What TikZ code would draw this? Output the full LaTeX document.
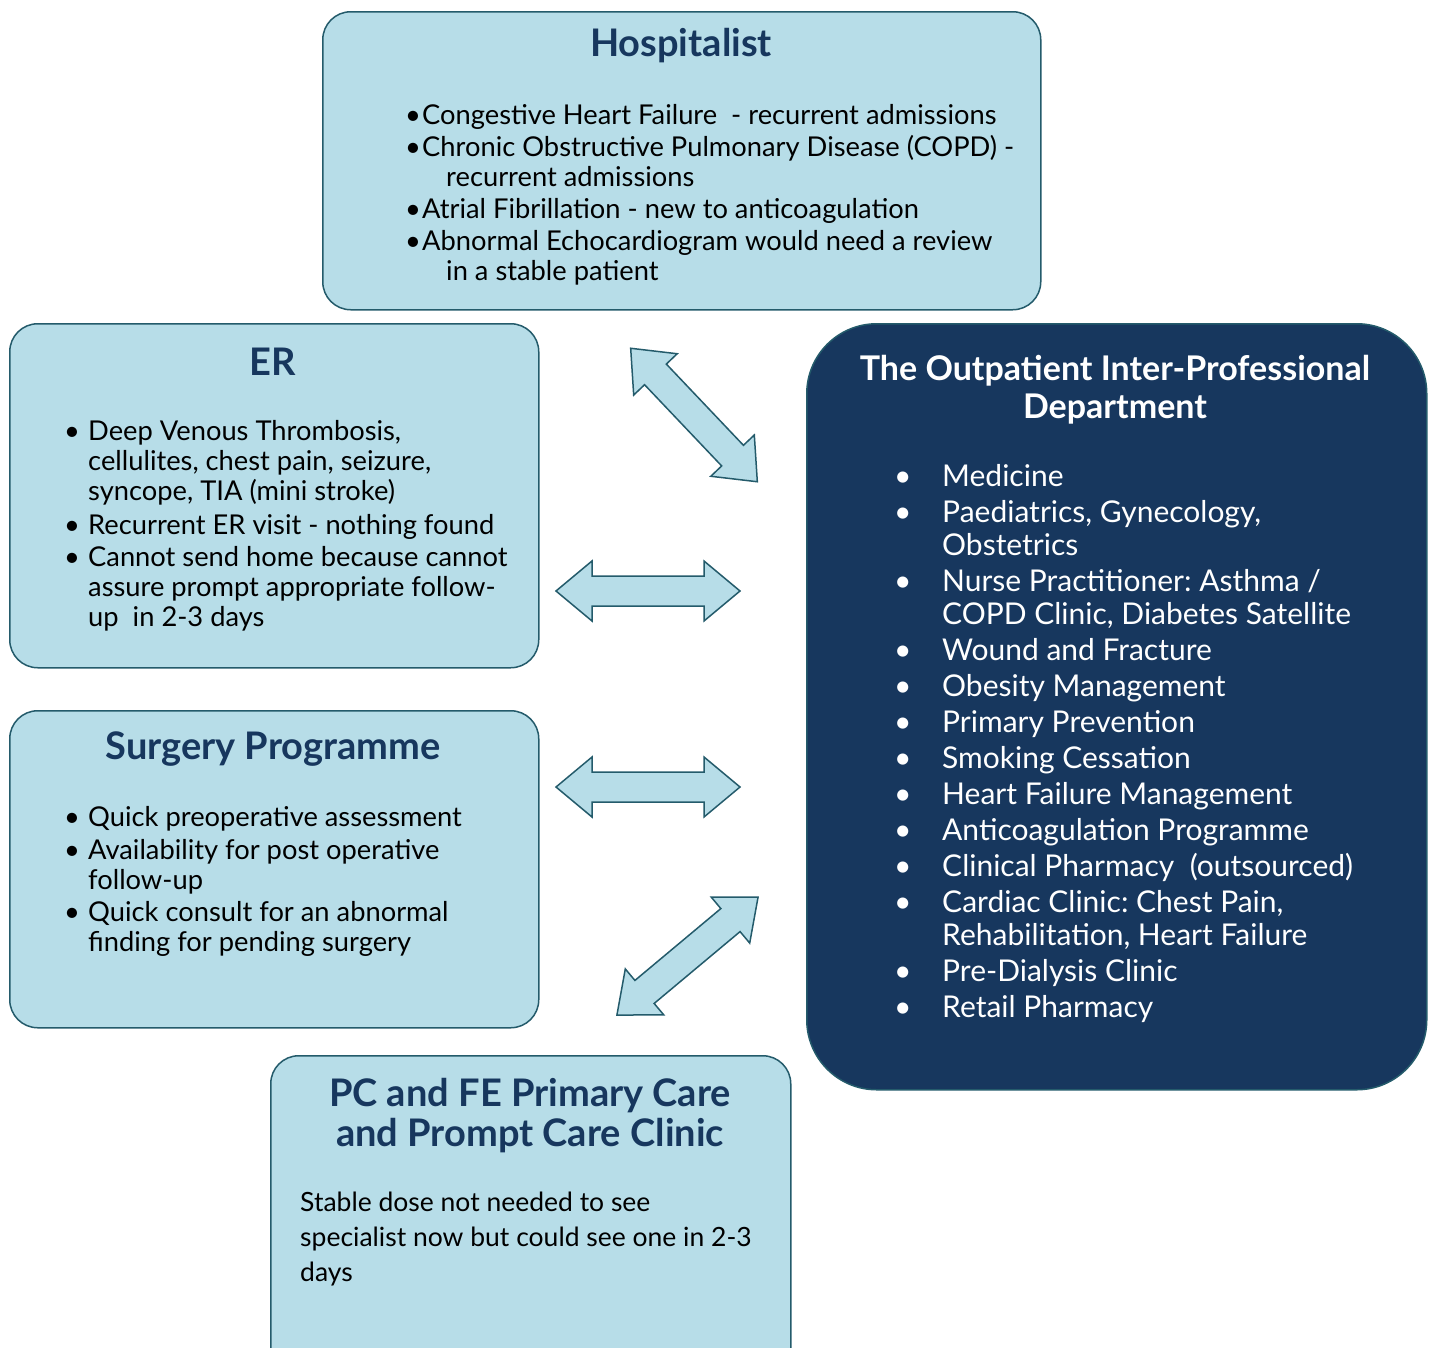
\documentclass[tikz,border=0pt]{standalone}
\usepackage{fontspec}
\setmainfont{Lato}
\usepackage{tikz}
\usetikzlibrary{positioning}

\definecolor{boxfill}{HTML}{B7DDE8}
\definecolor{boxline}{HTML}{245B6B}
\definecolor{navy}{HTML}{17375E}

\newcommand{\bodysize}{\fontsize{27.3}{30}\selectfont}
\newcommand{\bigsize}{\fontsize{30}{33}\selectfont}
\newcommand{\titlesize}{\fontsize{38}{40}\selectfont}
\newcommand{\bul}[1]{\makebox[#1][l]{\textbullet}}
\frenchspacing

\begin{document}
\begin{tikzpicture}[
    x=1pt, y=-1pt,
    lightbox/.style={
      draw=boxline,
      fill=boxfill,
      line width=1.5pt,
      rounded corners=28pt,
      anchor=north west
    },
    darkbox/.style={
      draw=boxline,
      fill=navy,
      line width=1.5pt,
      rounded corners=70pt,
      anchor=north west
    },
    title/.style={font=\titlesize\bfseries, text=navy, align=center, inner sep=0pt},
    itemlist/.style={font=\bodysize, inner sep=0pt, anchor=base west},
    dblarrow/.pic={
      \draw[boxline, fill=boxfill, line width=1.5pt, line join=miter]
        (-92,0) -- (-56,-30) -- (-56,-15) -- (56,-15) -- (56,-30) -- (92,0)
        -- (56,30) -- (56,15) -- (-56,15) -- (-56,30) -- cycle;
    }
]
\useasboundingbox (0,0) rectangle (1432,1347);

% boxes
\node[lightbox, minimum width=718, minimum height=298] (hosp) at (322,11) {};
\node[lightbox, minimum width=529, minimum height=344] (er) at (9,323) {};
\node[lightbox, minimum width=529, minimum height=317] (surg) at (9,710) {};
\node[lightbox, minimum width=520, minimum height=330] (pc) at (270,1055) {};
\node[darkbox, minimum width=620, minimum height=766] (opd) at (806,323) {};

% titles
\node[title] (hospTitle) at (681,46) {Hospitalist};
\node[title] (erTitle) at (273,362) {ER};
\node[title] (surgTitle) at (273,749) {Surgery Programme};
\node[title, text=white, font=\fontsize{34}{38}\selectfont\bfseries] (opdTitle) at (1115,390) {The Outpatient Inter-Professional\\Department};
\node[title] (pcTitle) at (530,1116) {PC and FE Primary Care\\and Prompt Care Clinic};

% lists
\node[itemlist] (hospList) at (405,124) {%
  \begin{tabular}[t]{@{}l@{}l@{}}
    \bul{17pt} & Congestive Heart Failure \ - recurrent admissions\\[2pt]
    \bul{17pt} & Chronic Obstructive Pulmonary Disease (COPD) -\\
               & \hspace{24pt}recurrent admissions\\[2pt]
    \bul{17pt} & Atrial Fibrillation - new to anticoagulation\\[2pt]
    \bul{17pt} & Abnormal Echocardiogram would need a review\\
               & \hspace{24pt}in a stable patient
  \end{tabular}};

\node[itemlist] (erList) at (64,440) {%
  \begin{tabular}[t]{@{}l@{}l@{}}
    \bul{24pt} & Deep Venous Thrombosis,\\
               & cellulites, chest pain, seizure,\\
               & syncope, TIA (mini stroke)\\[4pt]
    \bul{24pt} & Recurrent ER visit - nothing found\\[2pt]
    \bul{24pt} & Cannot send home because cannot\\
               & assure prompt appropriate follow-\\
               & up \ in 2-3 days
  \end{tabular}};

\node[itemlist] (surgList) at (64,826) {%
  \begin{tabular}[t]{@{}l@{}l@{}}
    \bul{24pt} & Quick preoperative assessment\\[3pt]
    \bul{24pt} & Availability for post operative\\
               & follow-up\\[2pt]
    \bul{24pt} & Quick consult for an abnormal\\
               & finding for pending surgery
  \end{tabular}};

\node[itemlist, font=\bigsize, text=white] (opdList) at (894,486) {%
  \begin{tabular}[t]{@{}l@{}l@{}}
    \bul{48pt} & Medicine\\[3pt]
    \bul{48pt} & Paediatrics, Gynecology,\\
               & Obstetrics\\[3pt]
    \bul{48pt} & Nurse Practitioner: Asthma /\\
               & COPD Clinic, Diabetes Satellite\\[3pt]
    \bul{48pt} & Wound and Fracture\\[3pt]
    \bul{48pt} & Obesity Management\\[3pt]
    \bul{48pt} & Primary Prevention\\[3pt]
    \bul{48pt} & Smoking Cessation\\[3pt]
    \bul{48pt} & Heart Failure Management\\[3pt]
    \bul{48pt} & Anticoagulation Programme\\[3pt]
    \bul{48pt} & Clinical Pharmacy \ (outsourced)\\[3pt]
    \bul{48pt} & Cardiac Clinic: Chest Pain,\\
               & Rehabilitation, Heart Failure\\[3pt]
    \bul{48pt} & Pre-Dialysis Clinic\\[3pt]
    \bul{48pt} & Retail Pharmacy
  \end{tabular}};

\node[itemlist, font=\fontsize{26.5}{35}\selectfont] (pcText) at (300,1211) {%
  \begin{tabular}[t]{@{}l@{}}
    Stable dose not needed to see\\
    specialist now but could see one in 2-3\\
    days
  \end{tabular}};

% arrows
\pic[rotate=-46.5] at (694,415) {dblarrow};
\pic at (648,591) {dblarrow};
\pic at (648,787) {dblarrow};
\pic[rotate=39.9] at (687.5,956) {dblarrow};
\end{tikzpicture}
\end{document}
